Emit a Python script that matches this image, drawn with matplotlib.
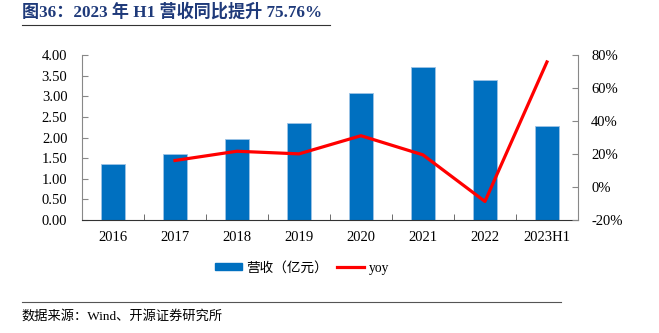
import matplotlib.pyplot as plt
import numpy as np
from matplotlib.lines import Line2D
from matplotlib.patches import Patch

years = ['2016', '2017', '2018', '2019', '2020', '2021', '2022', '2023H1']
revenue = [1.37, 1.61, 1.96, 2.36, 3.09, 3.71, 3.39, 2.29]
yoy_years = ['2017', '2018', '2019', '2020', '2021', '2022', '2023H1']
yoy = [16.1, 21.7, 20.1, 31.1, 19.5, -8.7, 75.76]

plt.rcParams['font.family'] = ['Liberation Serif', 'Noto Sans CJK SC']
plt.rcParams['font.size'] = 10.5

fig = plt.figure(figsize=(6.59, 3.33), dpi=100)
ax = fig.add_axes([0.1244, 0.339, 0.7526, 0.496])

x = np.arange(len(years))
ax.bar(x, revenue, width=0.4, color='#0070C0', edgecolor='#9DC3E6', linewidth=0.6)
ax.set_xlim(-0.5, len(years) - 0.5)
ax.set_ylim(0, 4)
ax.set_yticks(np.arange(0, 4.01, 0.5))
ax.set_yticklabels(['%.2f' % v for v in np.arange(0, 4.01, 0.5)])
ax.set_xticks(x)
ax.set_xticklabels(years)
ax.set_xticks(np.arange(0.5, len(years) - 1, 1), minor=True)
ax.tick_params(axis='x', which='major', length=0, pad=8)
ax.tick_params(axis='x', which='minor', direction='in', length=4, color='#555555')
ax.tick_params(axis='y', direction='in', length=4, color='#888888', pad=10.5)
ax.spines['top'].set_visible(False)
ax.spines['right'].set_visible(False)
ax.spines['left'].set_color('#888888')
ax.spines['bottom'].set_color('#333333')

ax2 = ax.twinx()
yx = [years.index(y) for y in yoy_years]
ax2.plot(yx, yoy, color='#FF0000', linewidth=2.3)
ax2.set_ylim(-20, 80)
ax2.set_yticks(np.arange(-20, 81, 20))
ax2.set_yticklabels(['%d%%' % v for v in np.arange(-20, 81, 20)])
ax2.tick_params(axis='y', direction='in', length=4, color='#888888', pad=9.5)
for s in ['top', 'left', 'bottom']:
    ax2.spines[s].set_visible(False)
ax2.spines['right'].set_color('#888888')

handles = [Patch(facecolor='#0070C0', edgecolor='#0070C0'),
           Line2D([], [], color='#FF0000', linewidth=2.3)]
fig.legend(handles, ['营收（亿元）', 'yoy'], loc='center', bbox_to_anchor=(0.458, 0.195),
           ncol=2, frameon=False, handlelength=2.0, handleheight=0.45, handletextpad=0.3,
           columnspacing=0.7,
           prop={'family': ['Liberation Serif', 'Noto Sans CJK SC'], 'size': 9.8})

fig.text(0.033, 0.965, '图36：2023 年 H1 营收同比提升 75.76%', fontsize=12.3, fontweight='bold',
         color='#1F3A7A', va='center', ha='left')
fig.add_artist(Line2D([0.033, 0.50], [0.925, 0.925], color='#333333', linewidth=0.8))
fig.add_artist(Line2D([0.033, 0.852], [0.094, 0.094], color='#555555', linewidth=0.8))
fig.text(0.033, 0.05, '数据来源：Wind、开源证券研究所', fontsize=9.5, va='center', ha='left')

fig.savefig('out.png', dpi=100)
